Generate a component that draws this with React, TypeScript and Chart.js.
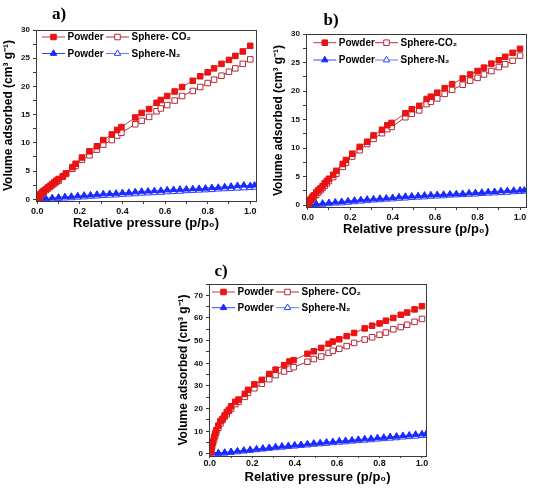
import React, { useEffect, useRef } from 'react';
import { Chart, registerables } from 'chart.js';

Chart.register(...registerables);

// ---------- data ----------
const xCO2 = [0.003, 0.006, 0.01, 0.015, 0.02, 0.025, 0.03, 0.04, 0.05, 0.06, 0.07, 0.08, 0.09, 0.1, 0.12, 0.135, 0.165, 0.18, 0.21, 0.245, 0.28, 0.31, 0.35, 0.375, 0.395, 0.46, 0.49, 0.525, 0.56, 0.58, 0.61, 0.645, 0.68, 0.73, 0.765, 0.8, 0.83, 0.865, 0.9, 0.93, 0.965, 1.0];
const xN2 = [0.01, 0.04, 0.07, 0.1, 0.13, 0.16, 0.19, 0.22, 0.25, 0.28, 0.31, 0.34, 0.37, 0.4, 0.43, 0.46, 0.49, 0.52, 0.55, 0.58, 0.61, 0.64, 0.67, 0.7, 0.73, 0.76, 0.79, 0.82, 0.85, 0.88, 0.91, 0.94, 0.97, 1.0, 1.02];

// panel a
const aPowderCO2 = [0.2, 0.4, 0.6, 0.9, 1.1, 1.3, 1.5, 1.8, 2.1, 2.4, 2.7, 3.0, 3.3, 3.6, 4.1, 4.6, 5.7, 6.3, 7.4, 8.5, 9.4, 10.5, 11.5, 12.3, 12.8, 14.5, 15.3, 16.0, 17.1, 17.6, 18.3, 19.1, 19.9, 21.0, 21.8, 22.5, 23.2, 24.0, 24.7, 25.4, 26.2, 27.2];
const aSphereCO2 = [0.1, 0.3, 0.5, 0.7, 0.9, 1.1, 1.3, 1.6, 1.9, 2.2, 2.5, 2.8, 3.1, 3.3, 4.0, 4.5, 5.4, 5.9, 7.0, 7.8, 8.8, 9.7, 10.5, 11.3, 11.8, 13.3, 13.9, 14.6, 15.6, 16.1, 16.7, 17.5, 18.3, 19.2, 19.9, 20.6, 21.2, 21.9, 22.6, 23.2, 24.0, 24.8];
const aPowderN2 = [0.1, 0.15, 0.25, 0.35, 0.45, 0.5, 0.6, 0.7, 0.75, 0.85, 0.95, 1.0, 1.05, 1.15, 1.2, 1.3, 1.4, 1.45, 1.5, 1.55, 1.65, 1.7, 1.75, 1.8, 1.85, 1.9, 1.95, 2.05, 2.1, 2.2, 2.3, 2.4, 2.5, 2.4, 2.5];
const aSphereN2 = [0.0, 0.0, 0.05, 0.1, 0.2, 0.25, 0.35, 0.4, 0.5, 0.55, 0.65, 0.7, 0.75, 0.85, 0.9, 0.95, 1.05, 1.1, 1.15, 1.2, 1.3, 1.35, 1.4, 1.5, 1.55, 1.6, 1.65, 1.7, 1.8, 1.85, 1.9, 1.95, 2.0, 2.05, 2.1];

// panel b
const bPowderCO2 = [0.3, 0.5, 0.8, 1.0, 1.3, 1.5, 1.7, 2.2, 2.6, 2.9, 3.3, 3.8, 4.2, 4.6, 5.3, 6.0, 7.2, 7.9, 9.0, 10.2, 11.1, 12.2, 13.2, 14.0, 14.4, 16.1, 16.8, 17.4, 18.6, 19.0, 19.7, 20.5, 21.2, 22.2, 22.9, 23.5, 24.1, 24.8, 25.4, 26.0, 26.7, 27.4];
const bSphereCO2 = [0.2, 0.4, 0.7, 0.9, 1.1, 1.3, 1.5, 1.8, 2.2, 2.6, 3.0, 3.4, 3.8, 4.2, 4.9, 5.5, 6.7, 7.4, 8.5, 9.6, 10.7, 11.6, 12.6, 13.3, 13.7, 15.4, 16.0, 16.6, 17.7, 18.1, 18.7, 19.5, 20.2, 21.1, 21.8, 22.3, 22.9, 23.5, 24.2, 24.7, 25.3, 26.2];
const bPowderN2 = [0.1, 0.2, 0.3, 0.4, 0.5, 0.6, 0.7, 0.8, 0.9, 1.0, 1.05, 1.15, 1.2, 1.3, 1.4, 1.5, 1.55, 1.6, 1.7, 1.75, 1.8, 1.85, 1.9, 1.95, 2.0, 2.1, 2.15, 2.2, 2.3, 2.35, 2.45, 2.5, 2.55, 2.6, 2.6];
const bSphereN2 = [0.0, 0.05, 0.1, 0.2, 0.3, 0.35, 0.45, 0.55, 0.65, 0.75, 0.85, 0.9, 1.0, 1.05, 1.15, 1.2, 1.3, 1.35, 1.4, 1.5, 1.55, 1.6, 1.7, 1.75, 1.8, 1.85, 1.9, 2.0, 2.05, 2.1, 2.15, 2.2, 2.3, 2.35, 2.4];

// panel c
const cPowderCO2 = [1.0, 2.0, 3.5, 5.5, 7.5, 9.0, 10.5, 12.5, 14.5, 15.5, 17.0, 18.5, 19.5, 21.0, 23.0, 24.0, 26.5, 28.3, 30.7, 32.7, 35.3, 37.2, 39.2, 40.8, 41.4, 44.2, 45.3, 46.8, 48.6, 49.6, 50.6, 52.0, 53.4, 55.4, 56.6, 57.6, 58.8, 60.0, 61.4, 62.4, 63.8, 65.2];
const cSphereCO2 = [0.6, 1.5, 3.0, 4.8, 6.5, 8.0, 9.5, 11.5, 13.5, 15.0, 16.5, 17.5, 19.0, 20.0, 22.0, 23.0, 25.2, 27.0, 29.0, 31.0, 33.0, 34.8, 36.4, 37.6, 38.3, 40.7, 41.9, 43.0, 44.6, 45.5, 46.4, 47.6, 49.0, 50.5, 51.5, 52.6, 53.6, 55.0, 56.0, 57.0, 58.3, 59.6];
const cPowderN2 = [0.8, 0.5, 0.7, 1.0, 1.3, 1.6, 1.9, 2.2, 2.5, 2.8, 3.1, 3.4, 3.6, 3.9, 4.1, 4.4, 4.7, 4.9, 5.2, 5.4, 5.7, 5.9, 6.1, 6.4, 6.6, 6.8, 7.1, 7.3, 7.6, 7.8, 8.1, 8.3, 8.6, 8.8, 8.9];
const cSphereN2 = [0.3, 0.1, 0.3, 0.6, 0.9, 1.2, 1.5, 1.8, 2.1, 2.4, 2.7, 2.9, 3.2, 3.4, 3.7, 3.9, 4.2, 4.4, 4.6, 4.9, 5.1, 5.3, 5.6, 5.8, 6.0, 6.2, 6.5, 6.7, 6.9, 7.1, 7.4, 7.6, 7.8, 8.1, 8.3];

const labelsAC = ['Powder', 'Sphere- CO₂', 'Powder', 'Sphere-N₂'];
const labelsB = ['Powder', 'Sphere-CO₂', 'Powder', 'Sphere-N₂'];
const panelTitles = ['a)', 'b)', 'c)'];
const xTitle = 'Relative pressure (p/p₀)';
const yTitle = 'Volume adsorbed (cm³ g⁻¹)';

// ---------- styles ----------
type Style = { line: string; border: string; fill: string; shape: 'rect' | 'triangle'; r: number };
const STYLES: Style[] = [
  { line: '#c23a48', border: '#e41414', fill: '#f21010', shape: 'rect', r: 3.9 },
  { line: '#b52d3e', border: '#b52a3a', fill: '#ffffff', shape: 'rect', r: 3.9 },
  { line: '#3346ff', border: '#1a2aff', fill: '#1a2aff', shape: 'triangle', r: 3.7 },
  { line: '#6a78f2', border: '#2b3cff', fill: '#ffffff', shape: 'triangle', r: 3.7 },
];

const FONT = 'Liberation Sans, Arial, sans-serif';

interface Panel {
  left: number; top: number; w: number; h: number;
  padTop: number; padRight: number; yWidth: number; xHeight: number;
  xMin: number; xMax: number; yMin: number; yMax: number; yStep: number; yLabelEvery: number;
  xTickLen: number; xTickPad: number;
  labels: string[];
  series: number[][];
  legendCols: number[]; legendRows: number[];
  title: string; titleX: number; titleY: number;
}

const PANELS: Panel[] = [
  {
    left: 0, top: 0, w: 262, h: 232, padTop: 30, padRight: 6, yWidth: 36, xHeight: 31,
    xMin: -0.006, xMax: 1.027, yMin: -0.3, yMax: 30, yStep: 2.5, yLabelEvery: 5,
    xTickLen: 3, xTickPad: 2.3,
    labels: labelsAC, series: [aPowderCO2, aSphereCO2, aPowderN2, aSphereN2],
    legendCols: [6, 70], legendRows: [7, 23.5],
    title: panelTitles[0], titleX: 59, titleY: 13,
  },
  {
    left: 270, top: 0, w: 270, h: 238, padTop: 34, padRight: 14, yWidth: 36, xHeight: 31,
    xMin: -0.008, xMax: 1.028, yMin: -0.35, yMax: 30, yStep: 2.5, yLabelEvery: 5,
    xTickLen: 3, xTickPad: 2.3,
    labels: labelsB, series: [bPowderCO2, bSphereCO2, bPowderN2, bSphereN2],
    legendCols: [7.3, 69], legendRows: [8.7, 26],
    title: panelTitles[1], titleX: 331, titleY: 19,
  },
  {
    left: 175, top: 250, w: 265, h: 236, padTop: 34, padRight: 14, yWidth: 34, xHeight: 30,
    xMin: -0.004, xMax: 1.019, yMin: -0.9, yMax: 75, yStep: 5, yLabelEvery: 10,
    xTickLen: 2, xTickPad: 0,
    labels: labelsAC, series: [cPowderCO2, cSphereCO2, cPowderN2, cSphereN2],
    legendCols: [3, 67], legendRows: [8, 23.7],
    title: panelTitles[2], titleX: 221, titleY: 269.5,
  },
];

function drawMarker(ctx: CanvasRenderingContext2D, st: Style, x: number, y: number) {
  ctx.beginPath();
  if (st.shape === 'rect') {
    const s = st.r * Math.SQRT1_2;
    ctx.rect(x - s, y - s, 2 * s, 2 * s);
  } else {
    for (let k = 0; k < 3; k++) {
      const a = (k * 2 * Math.PI) / 3;
      const px = x + Math.sin(a) * st.r;
      const py = y - Math.cos(a) * st.r;
      if (k === 0) ctx.moveTo(px, py); else ctx.lineTo(px, py);
    }
    ctx.closePath();
  }
  ctx.fillStyle = st.fill;
  ctx.fill();
  ctx.strokeStyle = st.border;
  ctx.lineWidth = 1;
  ctx.stroke();
}

function makeConfig(p: Panel): any {
  const xsFor = [xCO2, xCO2, xN2, xN2];
  const datasets = p.series.map((ys, i) => {
    const st = STYLES[i];
    return {
      label: p.labels[i],
      data: xsFor[i].map((x, j) => ({ x, y: ys[j] })),
      showLine: true,
      borderColor: st.line,
      borderWidth: 1,
      backgroundColor: st.fill,
      pointStyle: st.shape,
      pointRadius: st.r,
      pointBackgroundColor: st.fill,
      pointBorderColor: st.border,
      pointBorderWidth: 1,
      order: i < 2 ? 0 : 1,
    };
  });

  const framePlugin = {
    id: 'frame',
    afterDraw(chart: any) {
      const { ctx, chartArea } = chart;
      ctx.save();
      ctx.strokeStyle = '#3a3a3a';
      ctx.lineWidth = 1;
      ctx.strokeRect(
        Math.round(chartArea.left) + 0.5,
        Math.round(chartArea.top) + 0.5,
        Math.round(chartArea.right) - Math.round(chartArea.left),
        Math.round(chartArea.bottom) - Math.round(chartArea.top)
      );
      ctx.restore();
    },
  };

  const legendPlugin = {
    id: 'innerLegend',
    afterDraw(chart: any) {
      const { ctx, chartArea } = chart;
      chart.data.datasets.forEach((ds: any, i: number) => {
        const st = STYLES[i];
        const sx = chartArea.left + p.legendCols[i % 2];
        const sy = chartArea.top + p.legendRows[Math.floor(i / 2)];
        ctx.save();
        ctx.strokeStyle = st.line;
        ctx.lineWidth = 1;
        ctx.beginPath();
        ctx.moveTo(sx, sy);
        ctx.lineTo(sx + 23, sy);
        ctx.stroke();
        drawMarker(ctx, st, sx + 11.5, sy);
        ctx.fillStyle = '#000';
        ctx.font = `bold 10px ${FONT}`;
        ctx.textAlign = 'left';
        ctx.textBaseline = 'middle';
        ctx.fillText(ds.label, sx + 25.5, sy + 0.5);
        ctx.restore();
      });
    },
  };

  const gridBase = { display: true, drawOnChartArea: false, drawTicks: true, tickLength: 3, color: '#3a3a3a', lineWidth: 1 };

  return {
    type: 'scatter',
    data: { datasets },
    plugins: [framePlugin, legendPlugin],
    options: {
      animation: false,
      responsive: false,
      maintainAspectRatio: false,
      layout: { padding: { top: p.padTop, right: p.padRight, left: 0, bottom: 0 } },
      plugins: { legend: { display: false }, tooltip: { enabled: false }, title: { display: false } },
      scales: {
        x: {
          type: 'linear',
          min: p.xMin,
          max: p.xMax,
          border: { display: false },
          grid: { ...gridBase, tickLength: p.xTickLen },
          afterFit: (s: any) => { s.height = p.xHeight; },
          ticks: {
            stepSize: 0.1,
            includeBounds: false,
            autoSkip: false,
            maxRotation: 0,
            minRotation: 0,
            padding: p.xTickPad,
            color: '#111',
            font: { family: FONT, size: 9, weight: 'bold' },
            callback: (v: number) => {
              const k = Math.round(v * 10);
              return k % 2 === 0 ? (k / 10).toFixed(1) : '';
            },
          },
          title: {
            display: true,
            text: xTitle,
            color: '#000',
            padding: { top: 0, bottom: 0.7 },
            font: { family: FONT, size: 13, weight: 'bold' },
          },
        },
        y: {
          type: 'linear',
          min: p.yMin,
          max: p.yMax,
          border: { display: false },
          grid: gridBase,
          afterFit: (s: any) => { s.width = p.yWidth; },
          ticks: {
            stepSize: p.yStep,
            includeBounds: false,
            autoSkip: false,
            padding: 3,
            color: '#111',
            font: { family: FONT, size: 8, weight: 'bold' },
            callback: (v: number) => {
              const q = v / p.yLabelEvery;
              return Math.abs(q - Math.round(q)) < 1e-6 ? String(Math.round(v)) : '';
            },
          },
          title: {
            display: true,
            text: yTitle,
            color: '#000',
            padding: { top: 1.5, bottom: 0 },
            font: { family: FONT, size: 12, weight: 'bold' },
          },
        },
      },
    },
  };
}

function PanelChart({ p }: { p: Panel }) {
  const ref = useRef<HTMLCanvasElement>(null);
  useEffect(() => {
    const chart = new Chart(ref.current as HTMLCanvasElement, makeConfig(p));
    return () => chart.destroy();
  }, [p]);
  return (
    <canvas
      ref={ref}
      width={p.w}
      height={p.h}
      style={{ position: 'absolute', left: p.left, top: p.top, width: p.w, height: p.h }}
    />
  );
}

export default function App() {
  return (
    <div style={{ position: 'absolute', left: 0, top: 0, width: 540, height: 492, background: '#fff', overflow: 'hidden' }}>
      {PANELS.map((p, i) => (
        <PanelChart key={i} p={p} />
      ))}
      {PANELS.map((p, i) => (
        <div
          key={'t' + i}
          style={{
            position: 'absolute',
            left: p.titleX,
            top: p.titleY,
            transform: 'translate(-50%, -50%)',
            fontFamily: 'Liberation Serif, Times New Roman, serif',
            fontWeight: 'bold',
            fontSize: 17,
            lineHeight: 1,
            color: '#000',
            whiteSpace: 'nowrap',
          }}
        >
          {p.title}
        </div>
      ))}
    </div>
  );
}
